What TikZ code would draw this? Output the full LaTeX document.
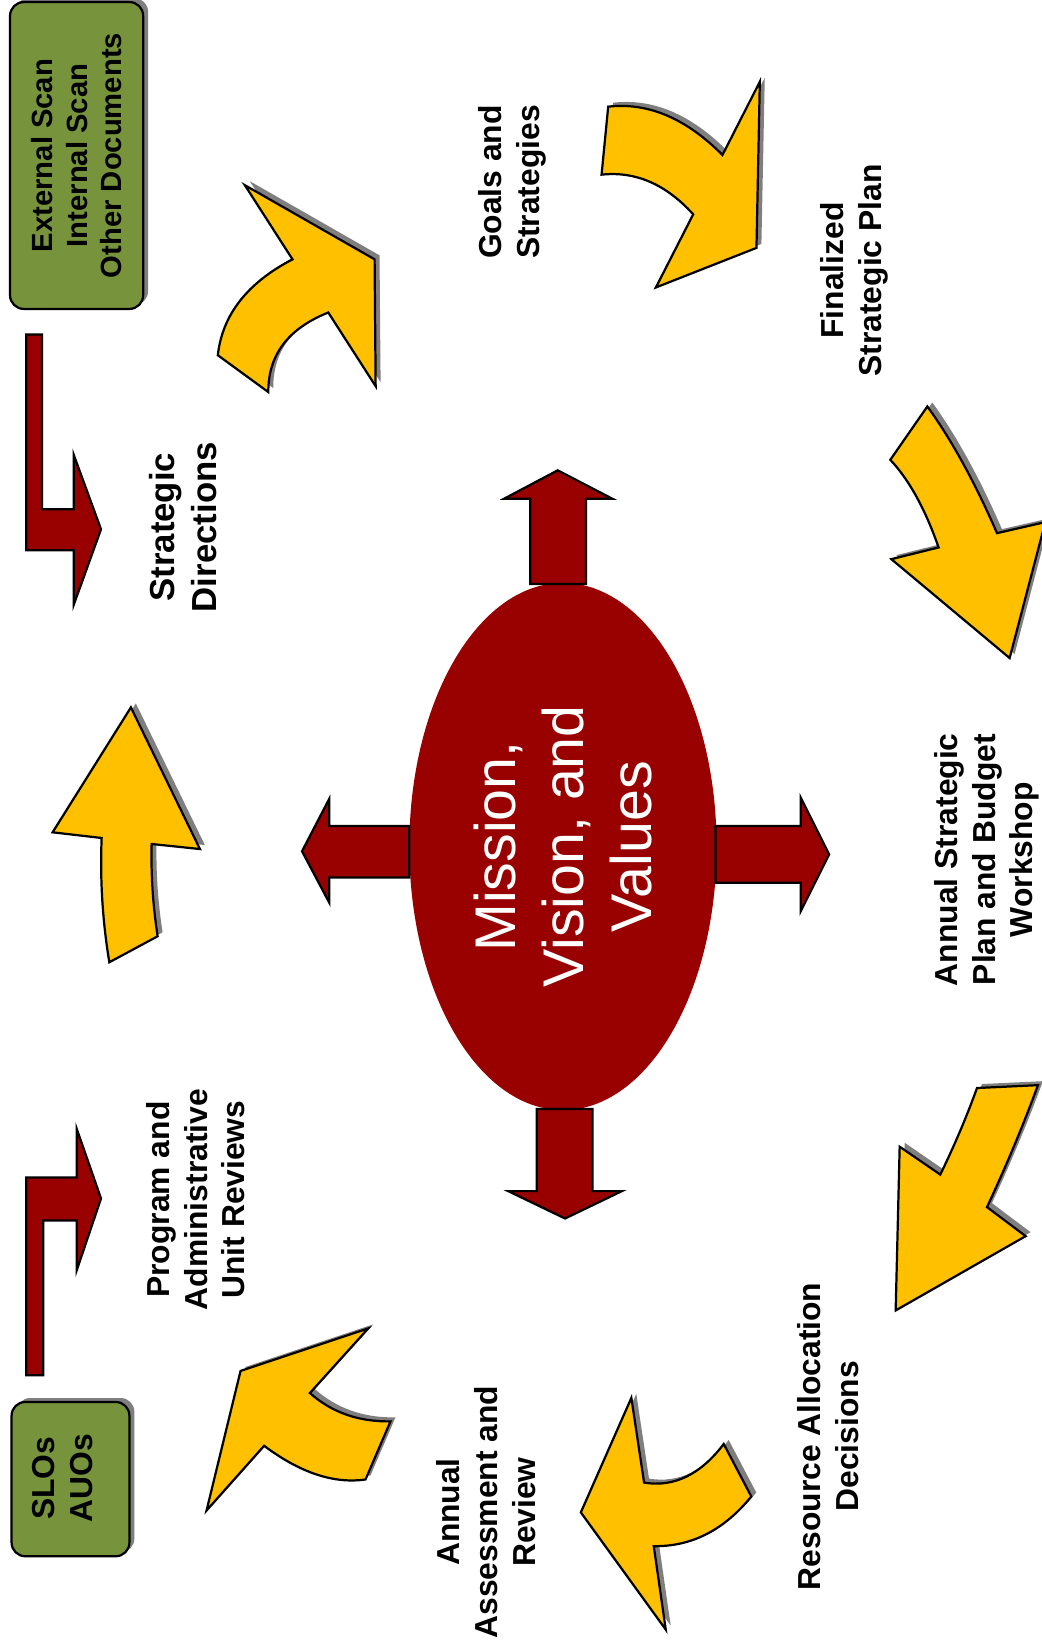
\documentclass[tikz,border=0pt]{standalone}
\usepackage{fontspec}
\setmainfont{Liberation Sans}
\usetikzlibrary{shapes.geometric,shadows}

\definecolor{mvvred}{HTML}{990000}
\definecolor{arrowyellow}{HTML}{FFC000}
\definecolor{boxgreen}{HTML}{77933C}
\definecolor{shadowgray}{HTML}{7F7F7F}

\newcommand{\lblfont}{\fontsize{8.6}{10.15}\selectfont\bfseries}
\newcommand{\biglblfont}{\fontsize{9.4}{11.2}\selectfont\bfseries}
\newcommand{\scanfont}{\fontsize{7.9}{9.25}\selectfont\bfseries}
\newcommand{\mvvfont}{\fontsize{15.5}{18.4}\selectfont}

\begin{document}
\begin{tikzpicture}[x=0.1mm,y=-0.1mm,
    grayshadow/.style={drop shadow={shadow xshift=0.47mm,shadow yshift=0.38mm,opacity=1,fill=shadowgray}},
    yarrow/.style={fill=arrowyellow,draw=black,line width=0.6pt,line join=miter,grayshadow},
    rarrow/.style={fill=mvvred,draw=black,line width=0.6pt,line join=miter},
    greenbox/.style={fill=boxgreen,draw=black,line width=0.6pt,rounded corners=1.3mm,inner sep=0pt,grayshadow},
    lbl/.style={rotate=90,align=center,font=\lblfont,inner sep=0pt}]

            \useasboundingbox (0,0) rectangle (990,1570);

            \node[greenbox,minimum width=12.65mm,minimum height=29.16mm] (scanbox) at (72.8,147.8) {};
            \node[greenbox,minimum width=11.2mm,minimum height=14.66mm] (slobox) at (67,1405.7) {};

            \draw[yarrow] (232.7,176) -- (356,246.5) -- (357,367) -- (312,297) .. controls (273.7,312.3) and (254.7,337.5) .. (255,372.6) -- (207,337.6) .. controls (211.3,299.2) and (235,268.8) .. (278,246.5) -- cycle;
            \draw[yarrow] (578,101.4) .. controls (615.7,97.1) and (651.9,112.4) .. (686.6,147.3) -- (722.1,77.7) -- (718.9,235.6) -- (623.3,273.2) -- (658.8,203.7) .. controls (632.9,175.1) and (603.9,162.5) .. (571.7,166) -- cycle;
            \draw[yarrow] (881.3,386.3) .. controls (904.2,417.8) and (926.3,458) .. (947.5,506.7) -- (993.4,496.2) -- (959.5,625.4) -- (847.1,531.4) -- (892,520.3) .. controls (879.3,483.8) and (864,456) .. (846.1,437) -- cycle;
            \draw[yarrow] (928.5,1034) -- (986.4,1031.3) .. controls (972.8,1068.4) and (956.7,1107.1) .. (938,1147.2) -- (974.7,1174.8) -- (851.2,1245.4) -- (855,1089.8) -- (893.6,1116.3) .. controls (906.9,1088.9) and (918.6,1061.5) .. (928.5,1034) -- cycle;
            \draw[yarrow] (600,1328.5) -- (612.1,1409) .. controls (640.4,1413.7) and (665.7,1401.4) .. (687.8,1372.3) -- (714,1422.2) .. controls (688,1454.2) and (657.1,1469.9) .. (621.3,1469.4) -- (632.7,1548.7) -- (552,1437.3) -- cycle;
            \draw[yarrow] (228.6,1302.9) -- (350,1262.4) -- (294.5,1323.9) .. controls (315.4,1342.4) and (340.9,1351.3) .. (371.1,1350.8) -- (347.4,1406) .. controls (317.4,1410.4) and (285.3,1399.7) .. (251,1374) -- (196.3,1435.5) -- cycle;
            \draw[yarrow] (124.4,672.3) -- (190,806.9) -- (144.1,802.1) .. controls (143.4,831.4) and (145.3,860.6) .. (149.8,889.8) -- (103.9,914.5) .. controls (97.4,875.2) and (95,835.8) .. (96.6,796.4) -- (50,791) -- cycle;

            \draw[rarrow] (25,318) -- (40,318) -- (40,484) -- (70,484) -- (70,432) -- (96,503) -- (70,575) -- (70,523) -- (25,523) -- cycle;
            \draw[rarrow] (25,1307) -- (25,1119) -- (73,1119) -- (73,1073) -- (96,1139) -- (73,1207) -- (73,1160) -- (41,1160) -- (41,1307) -- cycle;

            \node[ellipse,fill=mvvred,minimum width=29.2mm,minimum height=50.1mm,inner sep=0pt] (mvv) at (535,804.5) {};

            \draw[rarrow] (504,555) -- (504,474) -- (479,474) -- (530,447) -- (582,474) -- (557,474) -- (557,555) -- cycle;
            \draw[rarrow] (510,1054) -- (510,1132) -- (483,1132) -- (537,1158) -- (591,1132) -- (563,1132) -- (563,1054) -- cycle;
            \draw[rarrow] (389,785) -- (313,785) -- (313,759) -- (287,809) -- (313,858) -- (313,834) -- (389,834) -- cycle;
            \draw[rarrow] (680,785) -- (761,785) -- (761,758) -- (788,812) -- (761,866) -- (761,839) -- (680,839) -- cycle;

            \node[rotate=90,align=center,text=white,font=\mvvfont] (mvvtext) at (mvv.center) {Mission,\\Vision, and\\Values};

            \node[lbl,font=\scanfont] (scantext) at (scanbox.center) {External Scan\\Internal Scan\\Other Documents};
            \node[lbl] (slotext) at (59.4,1405) {SLOs\\AUOs};
            \node[lbl,font=\biglblfont] (strategic) at (174,501) {Strategic\\Directions};
            \node[lbl] (goals) at (487,173) {Goals and\\Strategies};
            \node[lbl] (finalized) at (812,257) {Finalized\\Strategic Plan};
            \node[lbl] (workshop) at (938,817) {Annual Strategic\\Plan and Budget\\Workshop};
            \node[lbl] (resource) at (787,1365) {Resource Allocation\\Decisions};
            \node[lbl] (assessment) at (462,1437) {Annual\\Assessment and\\Review};
            \node[lbl] (unitreview) at (186,1140) {Program and\\Administrative\\Unit Reviews};
\end{tikzpicture}
\end{document}
